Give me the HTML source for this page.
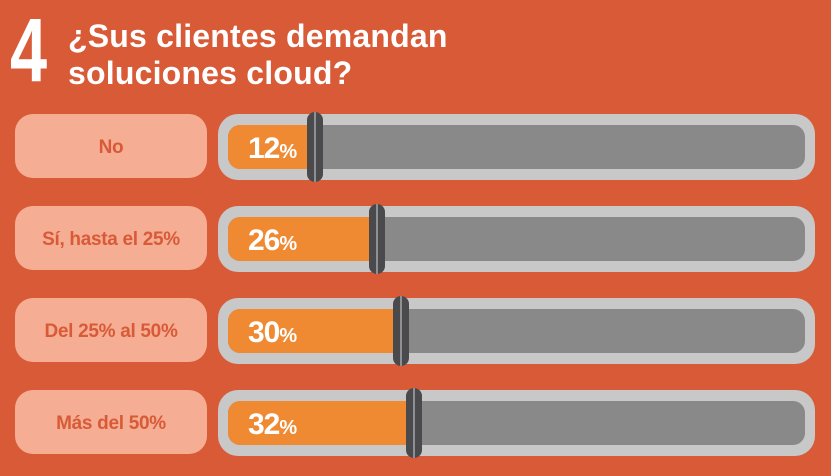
<!DOCTYPE html>
<html><head><meta charset="utf-8"><style>
body{margin:0;width:831px;height:476px;background:#D85A37;position:relative;overflow:hidden;font-family:"Liberation Sans",sans-serif}
.a{position:absolute}
.four{left:10px;top:6px;font-size:90px;font-weight:bold;color:#fff;transform:scaleX(0.74);transform-origin:left top;line-height:90px}
.t{left:68px;font-size:32px;font-weight:bold;color:#fff;letter-spacing:0.2px;line-height:32px}
.lab{left:15px;width:192px;height:64px;border-radius:18px;background:#F5AD94;color:#D85A37;font-weight:bold;font-size:19px;display:flex;align-items:center;justify-content:center;letter-spacing:-0.3px;padding-top:3px;box-sizing:border-box}
.out{left:218px;width:597px;height:66px;border-radius:20px;background:#C8C8C8}
.in{left:228px;width:577px;height:44px;border-radius:12px;background:#898989;overflow:hidden}
.or{left:0;top:0;height:44px;background:#F08A32;border-radius:12px 0 0 12px}
.pct{left:248px;color:#fff;font-weight:bold;font-size:30px;letter-spacing:-1px}
.pct small{font-size:20px;letter-spacing:0}
.h{width:16px;border-radius:8px;background:#4A4A4D}
.h:after{content:"";position:absolute;left:7px;top:0;bottom:0;width:2px;background:#8E9096}
</style></head><body>
<div class="a four">4</div>
<div class="a t" style="top:20px">¿Sus clientes demandan</div>
<div class="a t" style="top:57px">soluciones cloud?</div>

<div class="a lab" style="top:114px">No</div>
<div class="a out" style="top:114px"></div>
<div class="a in" style="top:125px"><div class="a or" style="width:86px"></div></div>
<div class="a pct" style="top:132px">12<small>%</small></div>
<div class="a h" style="left:307px;top:112px;height:70px"></div>

<div class="a lab" style="top:206px">Sí, hasta el 25%</div>
<div class="a out" style="top:206px"></div>
<div class="a in" style="top:217px"><div class="a or" style="width:148px"></div></div>
<div class="a pct" style="top:224px">26<small>%</small></div>
<div class="a h" style="left:369px;top:204px;height:70px"></div>

<div class="a lab" style="top:298px">Del 25% al 50%</div>
<div class="a out" style="top:298px"></div>
<div class="a in" style="top:309px"><div class="a or" style="width:172px"></div></div>
<div class="a pct" style="top:316px">30<small>%</small></div>
<div class="a h" style="left:393px;top:296px;height:70px"></div>

<div class="a lab" style="top:390px">Más del 50%</div>
<div class="a out" style="top:390px"></div>
<div class="a in" style="top:401px"><div class="a or" style="width:185px"></div></div>
<div class="a pct" style="top:408px">32<small>%</small></div>
<div class="a h" style="left:406px;top:388px;height:70px"></div>
</body></html>
